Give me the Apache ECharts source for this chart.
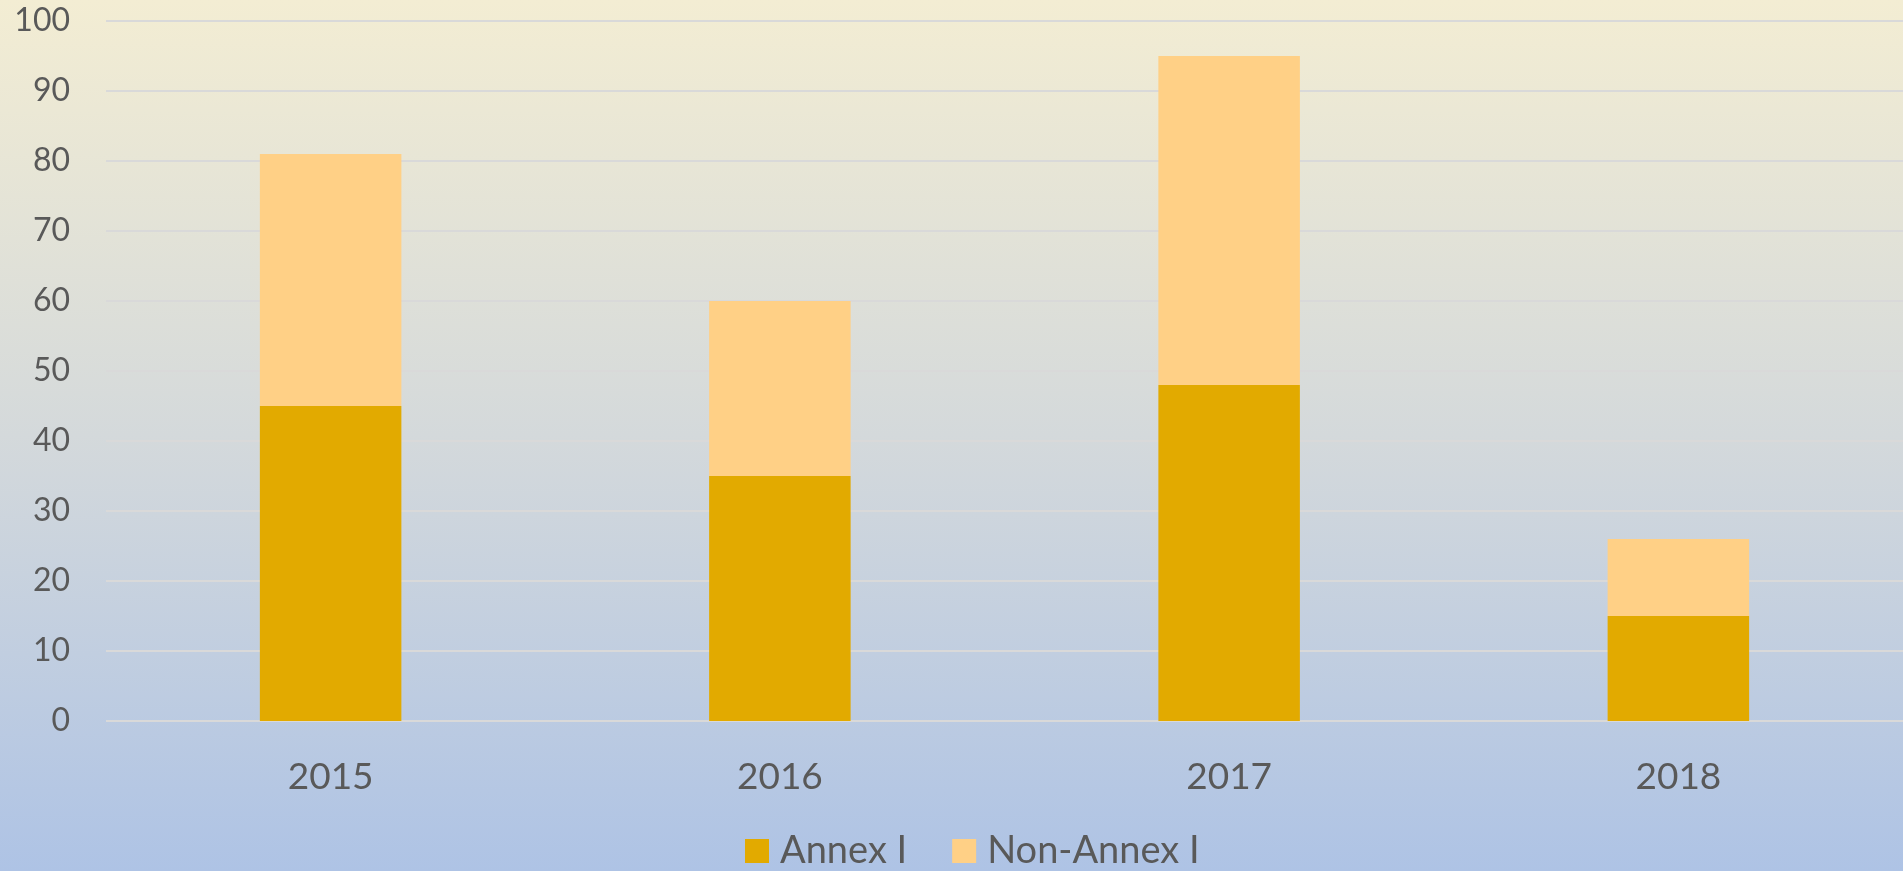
<!DOCTYPE html>
<html>
<head>
<meta charset="utf-8">
<script src="https://cdn.jsdelivr.net/npm/echarts@6/dist/echarts.min.js"></script>
<style>
  html, body { margin: 0; padding: 0; }
  #main { width: 1903px; height: 871px; }
</style>
</head>
<body>
<div id="main"></div>
<script>
// data
var years = ['2015', '2016', '2017', '2018'];
var annexI = [45, 35, 48, 15];
var nonAnnexI = [36, 25, 47, 11];

var myChart = echarts.init(document.getElementById('main'));

var option = {
    backgroundColor: {
        type: 'linear', x: 0, y: 0, x2: 0, y2: 1,
        colorStops: [
            { offset: 0, color: '#F3EDD3' },
            { offset: 0.5, color: '#D4D9DB' },
            { offset: 1, color: '#AEC3E5' }
        ]
    },
    textStyle: { fontFamily: 'Lato' },
    grid: {
        left: 106,
        right: -2,
        top: 21,
        bottom: 150
    },
    legend: {
        left: 745,
        top: 832,
        padding: 0,
        itemWidth: 24,
        itemHeight: 24,
        itemGap: 45,
        icon: 'rect',
        textStyle: { color: '#595959', fontSize: 38, fontFamily: 'Lato', padding: [0, 0, 0, 6] },
        data: ['Annex I', 'Non-Annex I']
    },
    xAxis: {
        type: 'category',
        data: years,
        axisLine: { show: false },
        axisTick: { show: false },
        axisLabel: {
            color: '#595959',
            fontSize: 37,
            margin: 38
        }
    },
    yAxis: {
        type: 'value',
        min: 0,
        max: 100,
        interval: 10,
        axisLine: { show: false },
        axisTick: { show: false },
        axisLabel: {
            color: '#595959',
            fontSize: 32,
            margin: 36
        },
        splitLine: {
            lineStyle: { color: '#D9D9D9', width: 2 }
        }
    },
    series: [
        {
            name: 'Annex I',
            type: 'bar',
            stack: 'total',
            barWidth: '31.5%',
            itemStyle: { color: '#E2AA00' },
            data: annexI
        },
        {
            name: 'Non-Annex I',
            type: 'bar',
            stack: 'total',
            itemStyle: { color: '#FFD086' },
            data: nonAnnexI
        }
    ]
};

myChart.setOption(option);
</script>
</body>
</html>
